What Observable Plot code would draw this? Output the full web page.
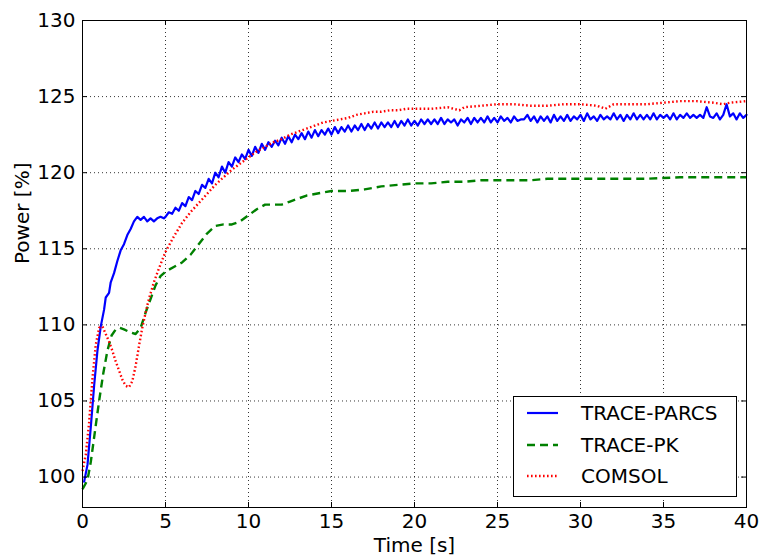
<!DOCTYPE html>
<html>
<head>
<meta charset="utf-8">
<script src="https://cdn.jsdelivr.net/npm/d3@7"></script>
<script src="https://cdn.jsdelivr.net/npm/@observablehq/plot@0.6"></script>
<style>
  html, body { margin: 0; padding: 0; background: #fff; }
  #wrap { position: relative; width: 763px; height: 555px; font-family: "DejaVu Sans", sans-serif; }
  #legend { position: absolute; left: 513px; top: 396px; }
</style>
</head>
<body>
<div id="wrap"></div>
<script>
// ---- data ----
const xTicks = [0, 5, 10, 15, 20, 25, 30, 35, 40];
const yTicks = [100, 105, 110, 115, 120, 125, 130];
const seriesNames = ["TRACE-PARCS", "TRACE-PK", "COMSOL"];
const seriesColors = ["#0000ff", "#008000", "#ff0000"];

// TRACE-PARCS, early part (explicit times)
const parcsEarlyTime = [0.1, 0.3, 0.5, 0.7, 0.9, 1.1, 1.3, 1.4, 1.6, 1.7, 1.9, 2.1, 2.3, 2.5, 2.7, 2.9, 3.1, 3.3, 3.5, 3.7, 3.9, 4.1, 4.3, 4.5, 4.7, 4.9];
const parcsEarlyValue = [99.7, 100.8, 103.3, 106.0, 108.3, 109.9, 111.0, 111.8, 112.1, 112.8, 113.4, 114.2, 114.9, 115.3, 115.9, 116.3, 116.8, 117.1, 116.9, 117.1, 116.8, 117.0, 116.8, 117.0, 117.1, 117.0];
// TRACE-PARCS, later part: samples every 0.2 s starting at 5.0 s
const parcsLateStart = 5.0;
const parcsLateStep = 0.2;
const parcsLateValue = [
  117.1, 117.4, 117.3, 117.7, 117.5, 118.0, 117.8, 118.4, 118.2, 118.8,
  118.6, 119.2, 119.0, 119.6, 119.3, 120.0, 119.7, 120.4, 120.0, 120.7,
  120.4, 121.0, 120.7, 121.2, 120.9, 121.5, 121.1, 121.7, 121.3, 121.9,
  121.5, 122.0, 121.7, 122.1, 121.8, 122.3, 121.9, 122.4, 122.0, 122.5,
  122.2, 122.6, 122.2, 122.7, 122.3, 122.8, 122.4, 122.8, 122.5, 122.9,
  122.5, 123.0, 122.6, 123.0, 122.7, 123.1, 122.7, 123.1, 122.8, 123.2,
  122.8, 123.2, 122.9, 123.3, 122.9, 123.3, 123.0, 123.3, 123.0, 123.4,
  123.0, 123.4, 123.1, 123.5, 123.1, 123.4, 123.1, 123.5, 123.2, 123.5,
  123.2, 123.5, 123.2, 123.6, 123.2, 123.5, 123.3, 123.5, 123.1, 123.5,
  123.3, 123.6, 123.2, 123.6, 123.3, 123.6, 123.3, 123.7, 123.3, 123.6,
  123.3, 123.7, 123.4, 123.6, 123.3, 123.7, 123.4, 123.5, 123.5, 123.8,
  123.4, 123.7, 123.3, 123.7, 123.4, 123.7, 123.3, 123.8, 123.4, 123.7,
  123.4, 123.8, 123.4, 123.7, 123.5, 123.8, 123.4, 123.9, 123.5, 123.7,
  123.4, 123.8, 123.5, 123.7, 123.5, 123.9, 123.5, 123.8, 123.4, 123.8,
  123.5, 123.9, 123.5, 123.8, 123.5, 123.8, 123.5, 123.9, 123.5, 123.8,
  123.6, 123.8, 123.5, 123.9, 123.5, 123.8, 123.6, 123.9, 123.6, 123.8,
  123.6, 123.8, 123.6, 124.3, 123.7, 123.6, 123.9, 123.5, 123.8, 124.5,
  123.7, 123.9, 123.5, 123.9, 123.6, 123.8
];

// TRACE-PK
const pkTime = [0, 0.3, 0.5, 0.75, 1.0, 1.25, 1.5, 1.75, 2.0, 2.25, 2.5, 2.9, 3.2, 3.5, 3.8, 4.1, 4.4, 4.7, 5.0, 5.5, 6.0, 6.5, 7.0, 7.5, 8.0, 8.5, 9.0, 9.5, 10, 10.5, 11, 11.5, 12, 12.5, 13, 13.5, 14, 14.5, 15, 16, 17, 18, 19, 20, 21, 22, 23, 24, 25, 26, 27, 28, 29, 30, 32, 34, 36, 38, 40];
const pkValue = [99.2, 99.8, 101.0, 103.0, 105.0, 106.8, 108.3, 109.3, 109.7, 109.8, 109.7, 109.5, 109.4, 109.8, 110.8, 111.7, 112.6, 113.2, 113.5, 113.8, 114.1, 114.6, 115.3, 116.0, 116.5, 116.6, 116.6, 116.8, 117.2, 117.6, 117.9, 117.9, 117.9, 118.1, 118.3, 118.5, 118.6, 118.7, 118.8, 118.8, 118.9, 119.1, 119.2, 119.3, 119.3, 119.4, 119.4, 119.5, 119.5, 119.5, 119.5, 119.6, 119.6, 119.6, 119.6, 119.6, 119.7, 119.7, 119.7];

// COMSOL
const comsolTime = [0, 0.2, 0.4, 0.6, 0.8, 1.0, 1.2, 1.4, 1.6, 1.8, 2.0, 2.2, 2.4, 2.6, 2.8, 3.0, 3.2, 3.4, 3.6, 3.8, 4.0, 4.3, 4.6, 5.0, 5.5, 6.0, 6.5, 7.0, 7.5, 8.0, 8.5, 9.0, 9.5, 10, 10.5, 11, 11.5, 12, 12.5, 13, 13.5, 14, 14.5, 15, 15.5, 16, 16.5, 17, 17.5, 18, 18.5, 19, 19.5, 20, 21, 22, 22.7, 23, 24, 25, 26, 27, 28, 29, 30, 31, 31.5, 32, 33, 34, 35, 36, 37, 38, 38.6, 39, 40];
const comsolValue = [100.4, 101.5, 103.6, 106.5, 108.7, 109.8, 109.9, 109.4, 108.9, 108.3, 107.6, 107.0, 106.4, 106.0, 105.9, 106.3, 107.3, 108.6, 109.8, 110.8, 111.7, 112.8, 113.7, 114.8, 115.8, 116.7, 117.4, 118.0, 118.6, 119.2, 119.7, 120.2, 120.6, 121.0, 121.4, 121.7, 122.0, 122.2, 122.5, 122.7, 122.9, 123.1, 123.3, 123.4, 123.5, 123.6, 123.8, 123.9, 124.0, 124.0, 124.1, 124.1, 124.2, 124.2, 124.2, 124.3, 124.1, 124.3, 124.4, 124.5, 124.5, 124.4, 124.4, 124.5, 124.5, 124.4, 124.2, 124.5, 124.5, 124.5, 124.6, 124.7, 124.7, 124.6, 124.5, 124.6, 124.7];

// ---- tables built from the arrays ----
const parcs = parcsEarlyTime.map((t, i) => ({t, v: parcsEarlyValue[i]}))
  .concat(parcsLateValue.map((v, i) => ({t: +(parcsLateStart + i * parcsLateStep).toFixed(2), v})));
const pk = pkTime.map((t, i) => ({t, v: pkValue[i]}));
const comsol = comsolTime.map((t, i) => ({t, v: comsolValue[i]}));

const W = 763, H = 555;
const mL = 82, mR = 17, mT = 20, mB = 48;
const innerW = W - mL - mR, innerH = H - mT - mB;
const tick = 5;
const gridStyle = {stroke: "#000", strokeOpacity: 1, strokeWidth: 0.8, strokeDasharray: "1,3"};

const chart = Plot.plot({
  width: W, height: H,
  marginLeft: mL, marginRight: mR, marginTop: mT, marginBottom: mB,
  style: {fontFamily: "DejaVu Sans, sans-serif", fontSize: "20px", color: "#000", background: "#fff", overflow: "visible"},
  x: {domain: [0, 40]},
  y: {domain: [98, 130]},
  marks: [
    Plot.gridX(xTicks, gridStyle),
    Plot.gridY(yTicks, gridStyle),
    Plot.line(parcs, {x: "t", y: "v", stroke: seriesColors[0], strokeWidth: 2.2}),
    Plot.line(pk, {x: "t", y: "v", stroke: seriesColors[1], strokeWidth: 2.4, strokeDasharray: "8,5", strokeLinecap: "butt"}),
    Plot.line(comsol, {x: "t", y: "v", stroke: seriesColors[2], strokeWidth: 2.4, strokeDasharray: "1.6,2.4", strokeLinecap: "butt"}),
    Plot.frame({stroke: "#000", strokeWidth: 1}),
    Plot.tickX(xTicks, {x: d => d, stroke: "#000", insetTop: innerH - tick}),
    Plot.tickX(xTicks, {x: d => d, stroke: "#000", insetBottom: innerH - tick}),
    Plot.tickY(yTicks, {y: d => d, stroke: "#000", insetRight: innerW - tick}),
    Plot.tickY(yTicks, {y: d => d, stroke: "#000", insetLeft: innerW - tick}),
    Plot.axisX({ticks: xTicks, tickSize: 0, tickPadding: 6, label: null}),
    Plot.axisY({ticks: yTicks, tickSize: 0, tickPadding: 7, label: null}),
    Plot.text(["Time [s]"], {frameAnchor: "bottom", dy: 44, fill: "#000", fontSize: 20}),
    Plot.text(["Power [%]"], {frameAnchor: "left", dx: -60, rotate: -90, fill: "#000", fontSize: 20})
  ]
});
document.getElementById("wrap").appendChild(chart);

// ---- legend (overlay) ----
const legendDashes = [null, "8,5", "1.6,2.4"];
const legendWidths = [2.2, 2.4, 2.4];
const ns = "http://www.w3.org/2000/svg";
const lg = document.createElementNS(ns, "svg");
lg.setAttribute("id", "legend");
lg.setAttribute("width", 224);
lg.setAttribute("height", 101);
const box = document.createElementNS(ns, "rect");
box.setAttribute("x", 0.5); box.setAttribute("y", 0.5);
box.setAttribute("width", 223); box.setAttribute("height", 100);
box.setAttribute("fill", "#fff"); box.setAttribute("stroke", "#000"); box.setAttribute("stroke-width", 1);
lg.appendChild(box);
const rowY = [17, 49, 80];
seriesNames.forEach((name, i) => {
  const ln = document.createElementNS(ns, "line");
  ln.setAttribute("x1", 14); ln.setAttribute("x2", 45);
  ln.setAttribute("y1", rowY[i]); ln.setAttribute("y2", rowY[i]);
  ln.setAttribute("stroke", seriesColors[i]);
  ln.setAttribute("stroke-width", legendWidths[i]);
  if (legendDashes[i]) ln.setAttribute("stroke-dasharray", legendDashes[i]);
  lg.appendChild(ln);
  const tx = document.createElementNS(ns, "text");
  tx.setAttribute("x", 68); tx.setAttribute("y", rowY[i] + 7);
  tx.setAttribute("font-family", "DejaVu Sans, sans-serif");
  tx.setAttribute("font-size", 20);
  tx.setAttribute("fill", "#000");
  tx.textContent = name;
  lg.appendChild(tx);
});
document.getElementById("wrap").appendChild(lg);
</script>
</body>
</html>
